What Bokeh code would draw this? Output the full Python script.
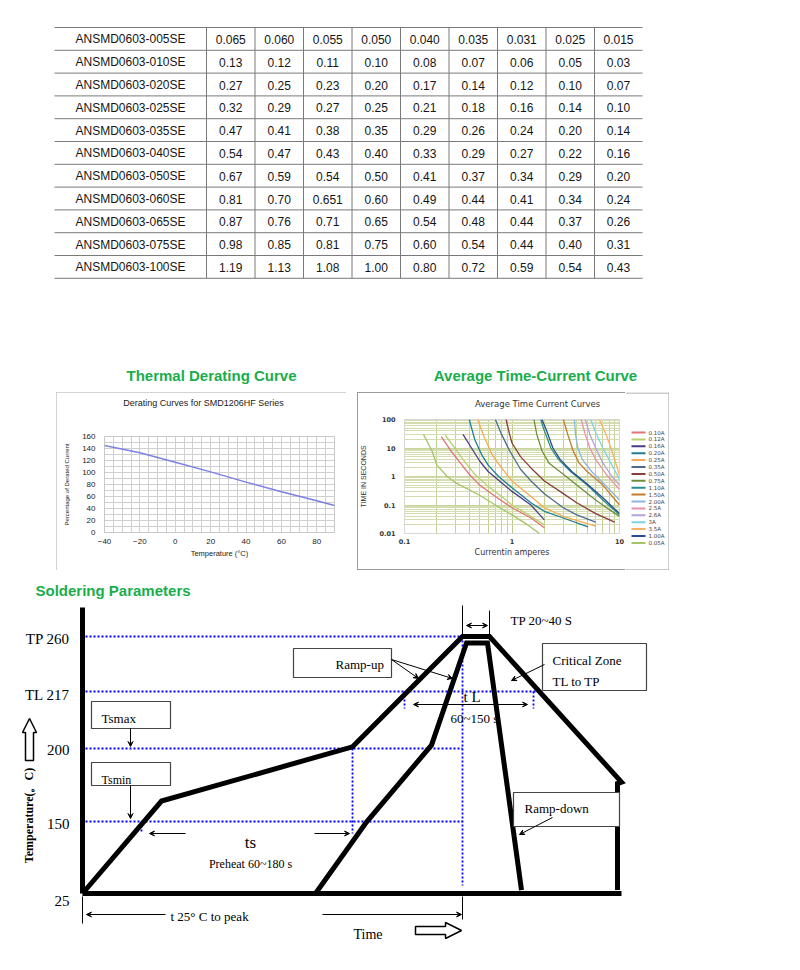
import numpy as np
from bokeh.plotting import figure
from bokeh.layouts import column, row
from bokeh.models import (Range1d, Spacer, FixedTicker, Arrow, VeeHead, LinearAxis,
                          LogAxis)
from bokeh.core.properties import value
from bokeh.embed import file_html
from bokeh.resources import INLINE

# ---------------- DATA ----------------
part_numbers = [
    "ANSMD0603-005SE", "ANSMD0603-010SE", "ANSMD0603-020SE", "ANSMD0603-025SE",
    "ANSMD0603-035SE", "ANSMD0603-040SE", "ANSMD0603-050SE", "ANSMD0603-060SE",
    "ANSMD0603-065SE", "ANSMD0603-075SE", "ANSMD0603-100SE"]
current_rows = [
    ["0.065", "0.060", "0.055", "0.050", "0.040", "0.035", "0.031", "0.025", "0.015"],
    ["0.13", "0.12", "0.11", "0.10", "0.08", "0.07", "0.06", "0.05", "0.03"],
    ["0.27", "0.25", "0.23", "0.20", "0.17", "0.14", "0.12", "0.10", "0.07"],
    ["0.32", "0.29", "0.27", "0.25", "0.21", "0.18", "0.16", "0.14", "0.10"],
    ["0.47", "0.41", "0.38", "0.35", "0.29", "0.26", "0.24", "0.20", "0.14"],
    ["0.54", "0.47", "0.43", "0.40", "0.33", "0.29", "0.27", "0.22", "0.16"],
    ["0.67", "0.59", "0.54", "0.50", "0.41", "0.37", "0.34", "0.29", "0.20"],
    ["0.81", "0.70", "0.651", "0.60", "0.49", "0.44", "0.41", "0.34", "0.24"],
    ["0.87", "0.76", "0.71", "0.65", "0.54", "0.48", "0.44", "0.37", "0.26"],
    ["0.98", "0.85", "0.81", "0.75", "0.60", "0.54", "0.44", "0.40", "0.31"],
    ["1.19", "1.13", "1.08", "1.00", "0.80", "0.72", "0.59", "0.54", "0.43"]]

derate_title = "Derating Curves for SMD1206HF Series"
derate_temp = [-40, -20, 0, 20, 40, 60, 80, 90]
derate_pct = [145, 133, 117, 101, 84, 68, 53, 45]

tcc_title = "Average Time Current Curves"
tcc_labels = ["0.10A", "0.12A", "0.16A", "0.20A", "0.25A", "0.35A", "0.50A", "0.75A",
              "1.10A", "1.50A", "2.00A", "2.5A", "2.6A", "3A", "3.5A", "1.00A", "0.05A"]
tcc_current = [
    [0.22, 0.27, 0.33, 0.4, 0.5, 0.7, 1.0, 1.5, 2.0],
    [0.24, 0.3, 0.37, 0.45, 0.6, 0.8, 1.0, 1.5, 2.0],
    [0.35, 0.42, 0.5, 0.6, 0.8, 1.0, 1.5, 2.0],
    [0.4, 0.45, 0.52, 0.6, 0.75, 1.0, 1.5, 2.0, 3.0, 5.1],
    [0.48, 0.55, 0.65, 0.8, 1.0, 1.5, 2.0, 3.0, 5.0, 6.0],
    [0.7, 0.8, 0.95, 1.2, 1.5, 2.0, 3.0, 4.0, 6.0],
    [0.88, 0.95, 1.0, 1.2, 1.5, 2.0, 3.0, 4.0, 6.0, 9.0],
    [1.6, 1.7, 1.9, 2.2, 3.0, 4.0, 6.0, 8.0, 10.0],
    [1.85, 2.0, 2.3, 2.7, 3.5, 5.0, 7.0, 10.0],
    [3.0, 3.3, 3.7, 4.2, 5.0, 7.0, 10.0],
    [3.8, 3.9, 4.1, 4.5, 5.5, 7.0, 10.0],
    [4.4, 4.8, 5.3, 6.0, 7.5, 10.0],
    [4.8, 5.3, 6.0, 7.0, 8.5, 10.0],
    [5.4, 6.0, 7.0, 8.5, 10.0],
    [6.5, 7.5, 8.5, 10.0],
    [1.9, 2.1, 2.4, 2.8, 3.6, 5.0, 7.0, 10.0],
    [0.15, 0.18, 0.2, 0.25, 0.3, 0.5, 0.7, 1.0, 1.4, 1.8]]
tcc_time = [
    [25, 8, 3, 1.2, 0.5, 0.2, 0.08, 0.035, 0.016],
    [28, 9, 3, 1.2, 0.45, 0.2, 0.1, 0.04, 0.02],
    [30, 10, 3.5, 1.5, 0.6, 0.3, 0.1, 0.03],
    [100, 20, 6, 2.5, 1.0, 0.4, 0.12, 0.06, 0.035, 0.017],
    [100, 25, 6, 2, 0.7, 0.2, 0.08, 0.04, 0.022, 0.018],
    [100, 30, 8, 1.8, 0.7, 0.25, 0.08, 0.045, 0.025],
    [100, 30, 15, 5, 2, 0.7, 0.25, 0.12, 0.05, 0.025],
    [100, 30, 8, 3, 1.2, 0.5, 0.15, 0.07, 0.04],
    [100, 40, 10, 4, 1.5, 0.5, 0.15, 0.045],
    [100, 30, 8, 3, 1.5, 0.5, 0.1],
    [100, 30, 10, 4, 1.5, 0.6, 0.15],
    [100, 30, 10, 4, 1.2, 0.35],
    [100, 30, 10, 3, 1.0, 0.5],
    [100, 35, 10, 2.5, 0.8],
    [100, 30, 8, 1.1],
    [100, 40, 10, 4, 1.5, 0.55, 0.18, 0.05],
    [30, 8, 2.5, 1.0, 0.6, 0.22, 0.1, 0.045, 0.02, 0.01]]
tcc_colors = ["#e07478", "#b9cf6e", "#4b3b86", "#1d7f94", "#f6ab52", "#4d6b92",
              "#8b3b3b", "#6f8d3c", "#2a8f8a", "#c27a2c", "#8fb4dc", "#e494a6",
              "#b3a3d6", "#7fd2e2", "#f7b265", "#2b4b8e", "#a4c466"]

level_temp = [25, 150, 200, 217, 260]
level_labels = ["25", "150", "200", "TL 217", "TP 260"]
outer_time = [0, 79, 270, 380, 407, 539, 535, 535]
outer_temp = [25, 164, 200.5, 260, 260, 177, 176, 31]
inner_time = [233, 284, 349, 384, 405, 439]
inner_temp = [25, 149, 201, 255, 255, 31]

GREEN = "#1aad4b"
SERIF = value("Liberation Serif")
SANS = value("Liberation Sans")
W = 792

# ---------------- TABLE + section titles ----------------
figT = figure(width=W, height=392, x_range=Range1d(0, W), y_range=Range1d(392, 0),
              output_backend="svg", toolbar_location=None, x_axis_type=None,
              y_axis_type=None, min_border=0, outline_line_color=None)
figT.grid.visible = False

col_edges = [54, 206, 254.5, 303, 351.5, 400, 448.5, 497, 545.5, 594, 642]
row_top, row_h = 27.0, 22.8
n_rows = len(part_numbers)
row_lines = [row_top + i * row_h for i in range(n_rows + 1)]
figT.segment(x0=[col_edges[0]] * len(row_lines), y0=row_lines,
             x1=[col_edges[-1]] * len(row_lines), y1=row_lines,
             line_color="#7a7a7a", line_width=1)
inner_edges = col_edges[1:-1]
figT.segment(x0=inner_edges, y0=[row_lines[0]] * len(inner_edges),
             x1=inner_edges, y1=[row_lines[-1]] * len(inner_edges),
             line_color="#7a7a7a", line_width=1)

centers = [(col_edges[i] + col_edges[i + 1]) / 2 for i in range(len(col_edges) - 1)]
tx_, ty_, tt_ = [], [], []
for r, (pn, vals) in enumerate(zip(part_numbers, current_rows)):
    yc = row_top + (r + 0.5) * row_h + 0.5
    for c, txt in enumerate([pn] + vals):
        tx_.append(centers[c]); ty_.append(yc); tt_.append(txt)
figT.text(x=tx_, y=ty_, text=tt_, text_align="center", text_baseline="middle",
          text_font=SANS, text_font_size="12px", text_color="#151515")

figT.text(x=[211, 535], y=[375, 375],
          text=["Thermal Derating Curve", "Average Time-Current Curve"],
          text_align="center", text_baseline="middle", text_font=SANS,
          text_font_style="bold", text_font_size="15px", text_color=GREEN)

# ---------------- Derating chart (page x 56..346, y 392..570) ----------------
figD = figure(width=290, height=178, x_range=Range1d(-40, 90), y_range=Range1d(0, 160),
              output_backend="svg", toolbar_location=None,
              min_border_left=48, min_border_right=12, min_border_top=44,
              min_border_bottom=38)
bx = figD.below[0]
ly = figD.left[0]
figD.add_layout(LinearAxis(ticker=FixedTicker(ticks=[16]),
                           major_label_overrides={16: derate_title},
                           axis_line_color=None, major_tick_line_color=None,
                           minor_tick_line_color=None, major_tick_out=0,
                           major_label_standoff=29,
                           major_label_text_font="Liberation Sans",
                           major_label_text_font_size="9px",
                           major_label_text_color="#222222"), "above")
figD.line(derate_temp, derate_pct, line_color="#7b7fe6", line_width=1.4)
bx.ticker = FixedTicker(ticks=list(range(-40, 81, 20)),
                        minor_ticks=list(range(-40, 91, 5)))
ly.ticker = FixedTicker(ticks=list(range(0, 161, 20)),
                        minor_ticks=list(range(0, 161, 10)))
for g in (figD.xgrid, figD.ygrid):
    g.grid_line_color = "#cfcfcf"
    g.minor_grid_line_color = "#cfcfcf"
for ax in (bx, ly):
    ax.axis_line_color = None
    ax.major_tick_line_color = None
    ax.minor_tick_line_color = None
    ax.major_label_text_font = "Liberation Sans"
    ax.major_label_text_font_size = "8px"
    ax.major_label_text_color = "#222222"
    ax.axis_label_text_font = "Liberation Sans"
    ax.axis_label_text_font_style = "normal"
    ax.axis_label_text_color = "#222222"
bx.axis_label = "Temperature (°C)"
bx.axis_label_text_font_size = "7.5px"
bx.major_label_standoff = 0
bx.axis_label_standoff = 2
ly.axis_label = "Percentage of Derated Current"
ly.axis_label_text_font_size = "6px"
ly.major_label_standoff = 3
ly.axis_label_standoff = 9
figD.outline_line_color = "#c8c8c8"
figD.styles = {"outline": "1px solid #c4c4c4", "outline-offset": "-1px"}

# ---------------- Time-current chart (page x 357..625) ----------------
figC = figure(width=268, height=178, x_axis_type="log", y_axis_type="log",
              x_range=Range1d(0.1, 10), y_range=Range1d(0.01, 100),
              output_backend="svg", toolbar_location=None,
              min_border_left=44, min_border_right=6, min_border_top=27,
              min_border_bottom=37)
cbx = figC.below[0]
cly = figC.left[0]
figC.add_layout(LogAxis(ticker=FixedTicker(ticks=[1.73]),
                        major_label_overrides={1.73: tcc_title},
                        axis_line_color=None, major_tick_line_color=None,
                        minor_tick_line_color=None, major_tick_out=0,
                        major_label_standoff=11,
                        major_label_text_font="DejaVu Sans",
                        major_label_text_font_size="8.5px",
                        major_label_text_color="#333333"), "above")
x_minor = [m * d for d in (0.1, 1) for m in range(2, 10)]
y_minor = [m * d for d in (0.01, 0.1, 1, 10) for m in range(2, 10)]
cbx.ticker = FixedTicker(ticks=[0.1, 1, 10], minor_ticks=x_minor)
cly.ticker = FixedTicker(ticks=[0.01, 0.1, 1, 10, 100], minor_ticks=y_minor)
cbx.major_label_overrides = {0.1: "0.1", 1: "1", 10: "10"}
cly.major_label_overrides = {0.01: "0.01", 0.1: "0.1", 1: "1", 10: "10", 100: "100"}
figC.xgrid.grid_line_color = "#b9c985"
figC.xgrid.minor_grid_line_color = "#c3d194"
figC.ygrid.grid_line_color = "#c7d49c"
figC.ygrid.minor_grid_line_color = "#d3ddb0"
for ax in (cbx, cly):
    ax.axis_line_color = None
    ax.major_tick_line_color = None
    ax.minor_tick_line_color = None
    ax.major_tick_out = 0
    ax.major_label_text_font = "DejaVu Sans"
    ax.major_label_text_font_style = "bold"
    ax.major_label_text_font_size = "6.5px"
    ax.major_label_text_color = "#333333"
    ax.axis_label_text_font_style = "normal"
    ax.axis_label_text_color = "#333333"
cbx.axis_label = "Currentin amperes"
cbx.axis_label_text_font = "DejaVu Sans"
cbx.axis_label_text_font_size = "8px"
cbx.major_label_standoff = 1
cbx.axis_label_standoff = 1
cly.axis_label = "TIME IN SECONDS"
cly.axis_label_text_font = "Liberation Sans"
cly.axis_label_text_font_size = "7px"
cly.major_label_standoff = 5
cly.axis_label_standoff = 9
figC.outline_line_color = "#d8d8d8"
for xs, ys, colr in zip(tcc_current, tcc_time, tcc_colors):
    figC.line(xs, ys, line_color=colr, line_width=1.3)
figC.border_fill_color = None
figC.styles = {"box-shadow": "inset 1px 0 0 #9a9a9a, inset 0 1px 0 #9a9a9a, "
                             "inset 0 -1px 0 #9a9a9a"}

# legend column (page x 625..669)
figL = figure(width=44, height=178, x_range=Range1d(625, 669), y_range=Range1d(570, 392),
              output_backend="svg", toolbar_location=None, x_axis_type=None,
              y_axis_type=None, min_border=0, outline_line_color=None)
figL.grid.visible = False
leg_y = [432 + 6.9 * i for i in range(len(tcc_labels))]
figL.segment(x0=[631] * len(leg_y), y0=leg_y, x1=[645] * len(leg_y), y1=leg_y,
             line_color=tcc_colors, line_width=2)
figL.text(x=[648] * len(leg_y), y=leg_y, text=tcc_labels, text_align="left",
          text_baseline="middle", text_font=value("DejaVu Sans"),
          text_font_size="5.5px", text_color="#444444")
figL.line([625, 668.5, 668.5, 625], [392.5, 392.5, 569.5, 569.5],
          line_color="#9a9a9a", line_width=1)

# ---------------- Soldering diagram (page y 570..962) ----------------
figS = figure(width=W, height=392, x_range=Range1d(0, W), y_range=Range1d(962, 570),
              output_backend="svg", toolbar_location=None, x_axis_type=None,
              y_axis_type=None, min_border=0, outline_line_color=None)
figS.grid.visible = False

level_px = [893, 821, 748, 691, 636]   # schematic positions of temperature levels


def ty(t):
    return np.interp(t, level_temp, level_px)


X0 = 82


def tx(s):
    return X0 + np.asarray(s, dtype=float)


BLUE = "#0000ff"
h_ends = [462, 462, 462, 535, 462]
for t, xe in zip(level_temp[1:], h_ends[1:]):
    figS.line([85, xe], [ty(t), ty(t)], line_color=BLUE, line_dash="2 2", line_width=1.8)
vx = [462, 352, 141, 404, 533]
vy0 = [ty(260), ty(200), ty(150), ty(217), ty(217)]
vy1 = [885, 833, 833, 708, 708]
for a, b, c in zip(vx, vy0, vy1):
    figS.line([a, a], [b, c], line_color=BLUE, line_dash="2 2", line_width=1.8)

figS.line([X0, X0], [607, ty(25)], line_color="black", line_width=5)
figS.line([X0, 621], [ty(25), ty(25)], line_color="black", line_width=5)
label_y = [900, 823, 749, 694, 638]
figS.text(x=[69] * 5, y=label_y, text=level_labels, text_align="right",
          text_baseline="middle", text_font=SERIF, text_font_size="15px",
          text_color="black")

figS.line(tx(outer_time), ty(outer_temp), line_color="black", line_width=5,
          line_join="miter")
figS.line(tx(inner_time), ty(inner_temp), line_color="black", line_width=5,
          line_join="miter")

figS.segment(x0=[462, 489, 82, 462], y0=[605, 610, 896, 896],
             x1=[462, 489, 82, 462], y1=[636, 636, 923, 919],
             line_color="black", line_width=1)


def arrow(x0, y0, x1, y1, both=False):
    head = dict(size=5, line_width=1, line_color="black", fill_color="black")
    figS.add_layout(Arrow(x_start=x0, y_start=y0, x_end=x1, y_end=y1,
                          end=VeeHead(**head),
                          start=VeeHead(**head) if both else None,
                          line_width=1, line_color="black"))


arrow(466, 625, 487, 625, both=True)
arrow(413, 704, 527, 704, both=True)
arrow(391, 659, 418, 678)
arrow(391, 659, 452, 678)
arrow(544, 664, 511, 680)
arrow(130, 728, 130, 746)
arrow(130, 785, 130, 818)
arrow(185, 833, 149, 833)
arrow(314, 833, 349, 833)
arrow(552, 817, 519, 834)
arrow(165, 914, 86, 914)
arrow(322, 914, 461, 914)

box_l = [293, 91, 91, 542, 513]
box_r = [391, 170, 170, 646, 619]
box_t = [648, 701, 762, 643, 792]
box_b = [677, 728, 785, 690, 826]
figS.quad(left=box_l, right=box_r, top=box_t, bottom=box_b, fill_color="white",
          line_color="#444444", line_width=1.2)

txt_x = [335, 101, 101, 552, 552, 524, 510, 463, 450, 250, 250, 170, 353]
txt_y = [664, 718, 779, 660, 681, 808, 620, 696, 718, 842, 863, 916, 934]
txt_s = ["Ramp-up", "Tsmax", "Tsmin", "Critical Zone", "TL to TP", "Ramp-down",
         "TP 20~40 S", "t L", "60~150 s", "ts", "Preheat 60~180 s",
         "t 25°  C to peak", "Time"]
txt_a = ["left"] * 9 + ["center", "center", "left", "left"]
txt_f = ["13px", "13px", "12px", "13px", "13px", "13px", "13px", "15px", "13px",
         "17px", "12px", "13px", "14px"]
for x_, y_, s_, a_, f_ in zip(txt_x, txt_y, txt_s, txt_a, txt_f):
    figS.text(x=[x_], y=[y_], text=[s_], text_align=a_, text_baseline="middle",
              text_font=SERIF, text_font_size=f_, text_color="black")

figS.text(x=[28], y=[815], text=["Temperature(。C)"], angle=np.pi / 2,
          text_align="center", text_baseline="middle", text_font=SERIF,
          text_font_style="bold", text_font_size="12px", text_color="black")

figS.patch([22, 29, 36, 33, 33, 25, 25], [732, 718, 732, 732, 760, 760, 732],
           fill_color="white", line_color="black", line_width=1.5)
figS.patch([415, 445, 445, 461, 445, 445, 415], [926, 926, 922, 930, 938, 934, 934],
           fill_color="white", line_color="black", line_width=1.5)

figS.text(x=[35], y=[590], text=["Soldering Parameters"], text_align="left",
          text_baseline="middle", text_font=SANS, text_font_style="bold",
          text_font_size="15px", text_color=GREEN)

layout = column(
    figT,
    row(Spacer(width=56, height=178), column(figD), Spacer(width=11, height=178),
        column(figC), column(figL)),
    figS)

open("out.html", "w").write(file_html(layout, INLINE))
